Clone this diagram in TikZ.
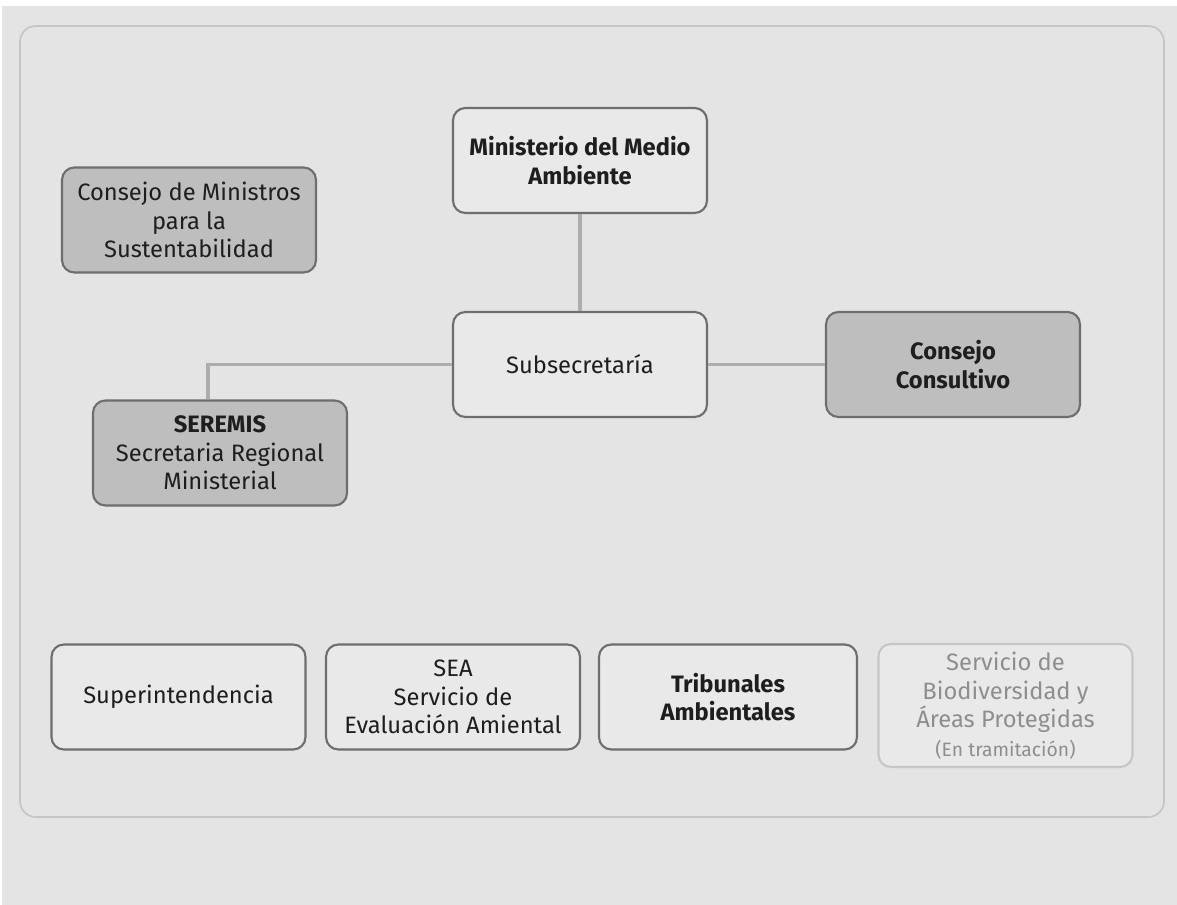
\documentclass[tikz,border=0pt]{standalone}
\usepackage{fontspec}
\setmainfont{Fira Sans}
\usetikzlibrary{positioning}

\definecolor{pagegray}{HTML}{E4E4E4}
\definecolor{framegray}{HTML}{C6C6C6}
\definecolor{boxfill}{HTML}{E9E9E9}
\definecolor{darkfill}{HTML}{BEBEBE}
\definecolor{boxline}{HTML}{6E6E6E}
\definecolor{linkgray}{HTML}{ADADAD}
\definecolor{paletext}{HTML}{8E8E8E}
\definecolor{inktext}{HTML}{1E1E1E}

\tikzset{
	orgbox/.style={draw=boxline,fill=boxfill,line width=1.2pt,rounded corners=7pt,
		minimum width=5.08cm,minimum height=2.1cm,align=center,text=inktext,
		font=\fontsize{13.5}{16.2}\selectfont},
	darkbox/.style={orgbox,fill=darkfill},
	pendingbox/.style={orgbox,draw=framegray,text=paletext,minimum height=2.46cm},
	link/.style={draw=linkgray,line width=2.2pt}
}

\begin{document}
\begin{tikzpicture}[x=0.02cm,y=-0.02cm]
		\fill[white] (0,0) rectangle (1177,905);
		\fill[pagegray] (2,6) rectangle (1177,905);
		\draw[framegray,line width=1pt,rounded corners=9pt] (20,26) rectangle (1164,817);

		\node[orgbox] (ministerio) at (580,160.5) {\bfseries Ministerio del Medio\\\bfseries Ambiente};
		\node[orgbox] (subsecretaria) at (580,364.5) {Subsecretaría};
		\node[darkbox] (consejomin) at (189,220) {Consejo de Ministros\\para la\\Sustentabilidad};
		\node[darkbox] (consultivo) at (953,364.5) {\bfseries Consejo\\\bfseries Consultivo};
		\node[darkbox] (seremis) at (220,453) {\bfseries SEREMIS\\Secretaria Regional\\Ministerial};

		\node[orgbox] (superint) at (178.5,697) {Superintendencia};
		\node[orgbox] (sea) at (453,697) {SEA\\Servicio de\\Evaluación Amiental};
		\node[orgbox,minimum width=5.16cm] (tribunales) at (728,697) {\bfseries Tribunales\\\bfseries Ambientales};
		\node[pendingbox] (biodiv) at (1005.5,705.5) {Servicio de\\Biodiversidad y\\Áreas Protegidas\\{\fontsize{11}{14}\selectfont (En tramitación)}};

		\draw[link] (ministerio) -- (subsecretaria);
		\draw[link] (subsecretaria) -- (consultivo);
		\draw[link] (subsecretaria.west) -| ([xshift=-7]seremis.north);
	\end{tikzpicture}
\end{document}
